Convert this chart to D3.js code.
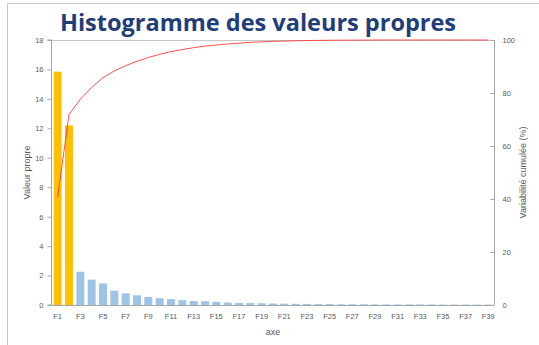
<!DOCTYPE html>
<html>
<head>
<meta charset="utf-8">
<script src="https://cdn.jsdelivr.net/npm/d3@7"></script>
<style>
  html, body { margin: 0; padding: 0; background: #fff; }
  svg { display: block; }
</style>
</head>
<body>
<svg id="chart" width="539" height="345"></svg>
<script>
// Principal axes F1..F39
const axes = d3.range(1, 40).map(i => "F" + i);

// Eigenvalue of each axis
const eigenvalues = [15.85, 12.2, 2.26, 1.72, 1.46, 0.97, 0.79, 0.66, 0.54, 0.46,
  0.40, 0.33, 0.27, 0.26, 0.22, 0.17, 0.14, 0.13, 0.12, 0.10,
  0.09, 0.08, 0.07, 0.06, 0.06, 0.05, 0.05, 0.05, 0.04, 0.04,
  0.04, 0.04, 0.04, 0.04, 0.03, 0.03, 0.03, 0.03, 0.03];

// Cumulative explained variability (%)
const cumulative = [40.6, 71.9, 77.7, 82.1, 85.8, 88.3, 90.3, 92.0, 93.4, 94.6,
  95.6, 96.4, 97.1, 97.7, 98.1, 98.5, 98.8, 99.1, 99.3, 99.5,
  99.6, 99.7, 99.8, 99.85, 99.9, 99.93, 99.95, 99.97, 99.98, 100,
  100, 100, 100, 100, 100, 100, 100, 100, 100];

// Axes highlighted in the histogram
const retainedAxes = ["F1", "F2"];

const leftTicks = d3.range(0, 19, 2);
const rightTicks = d3.range(0, 101, 20);
const xTickLabels = axes.filter((d, i) => i % 2 === 0);

const svg = d3.select("#chart");
const plot = { left: 52, right: 494, top: 40, bottom: 305 };
const axisColor = "#a6a6a6";
const textColor = "#595959";
const tickFont = "'Liberation Sans', Arial, sans-serif";

// Outer frame
svg.append("path")
  .attr("d", "M7.5,360 L7.5,3.5 L560,3.5")
  .attr("fill", "none")
  .attr("stroke", "#c8c8c8")
  .attr("stroke-width", 1);

// Title
svg.append("text")
  .attr("x", 258).attr("y", 31)
  .attr("text-anchor", "middle")
  .attr("font-family", "'Open Sans', sans-serif")
  .attr("font-weight", "bold")
  .attr("font-size", 23.5)
  .attr("fill", "#1f3d78")
  .text("Histogramme des valeurs propres");

const x = d3.scaleBand()
  .domain(axes)
  .range([plot.left, plot.right])
  .paddingInner(0.3)
  .paddingOuter(0.15);

const y = d3.scaleLinear().domain([0, 18]).range([plot.bottom, plot.top]);
const y2 = d3.scaleLinear().domain([0, 100]).range([plot.bottom, plot.top]);

// Bars
svg.append("g").selectAll("rect")
  .data(axes.map((a, i) => ({ axis: a, value: eigenvalues[i] })))
  .join("rect")
  .attr("x", d => x(d.axis))
  .attr("width", x.bandwidth())
  .attr("y", d => y(d.value))
  .attr("height", d => y(0) - y(d.value))
  .attr("fill", d => retainedAxes.includes(d.axis) ? "#ffc000" : "#9dc3e6");

// Plot frame top line
svg.append("line")
  .attr("x1", plot.left).attr("x2", plot.right)
  .attr("y1", plot.top + 0.5).attr("y2", plot.top + 0.5)
  .attr("stroke", "#c8c8c8").attr("stroke-width", 1);

// Left axis
const gLeft = svg.append("g")
  .attr("transform", `translate(${plot.left - 0.5},0)`)
  .call(d3.axisLeft(y).tickValues(leftTicks).tickSize(4).tickPadding(4));
// Right axis (ticks pointing inwards)
const gRight = svg.append("g")
  .attr("transform", `translate(${plot.right + 0.5},0)`)
  .call(d3.axisRight(y2).tickValues(rightTicks).tickSize(0).tickPadding(8));
gRight.selectAll(".tick").append("line")
  .attr("x1", -4).attr("x2", 0);
// Bottom axis
const gBottom = svg.append("g")
  .attr("transform", `translate(0,${plot.bottom + 0.5})`)
  .call(d3.axisBottom(x).tickValues(xTickLabels).tickSize(0).tickPadding(8));

[gLeft, gRight, gBottom].forEach(g => {
  g.select(".domain").attr("stroke", axisColor);
  g.selectAll(".tick line").attr("stroke", axisColor);
  g.selectAll(".tick text")
    .attr("fill", textColor)
    .attr("font-family", tickFont)
    .attr("font-size", 7.5);
});
gBottom.select(".domain").attr("d", `M${plot.left},0H${plot.right}`);
gLeft.select(".domain").attr("d", `M-4,${plot.bottom}H0V${plot.top}H-4`);
gRight.select(".domain").attr("d", `M0,${plot.bottom}V${plot.top}`);

// Cumulative variability line
svg.append("path")
  .datum(cumulative)
  .attr("fill", "none")
  .attr("stroke", "#ff3030")
  .attr("stroke-width", 0.85)
  .attr("d", d3.line()
    .x((d, i) => x(axes[i]) + x.bandwidth() / 2)
    .y(d => y2(d)));

// Axis titles
svg.append("text")
  .attr("transform", `translate(30,${(plot.top + plot.bottom) / 2}) rotate(-90)`)
  .attr("text-anchor", "middle")
  .attr("font-family", tickFont).attr("font-size", 9)
  .attr("fill", textColor)
  .text("Valeur propre");

svg.append("text")
  .attr("transform", `translate(526,${(plot.top + plot.bottom) / 2}) rotate(-90)`)
  .attr("text-anchor", "middle")
  .attr("font-family", tickFont).attr("font-size", 9)
  .attr("fill", textColor)
  .text("Variabilité cumulée (%)");

svg.append("text")
  .attr("x", (plot.left + plot.right) / 2).attr("y", 335)
  .attr("text-anchor", "middle")
  .attr("font-family", tickFont).attr("font-size", 9)
  .attr("fill", textColor)
  .text("axe");
</script>
</body>
</html>
